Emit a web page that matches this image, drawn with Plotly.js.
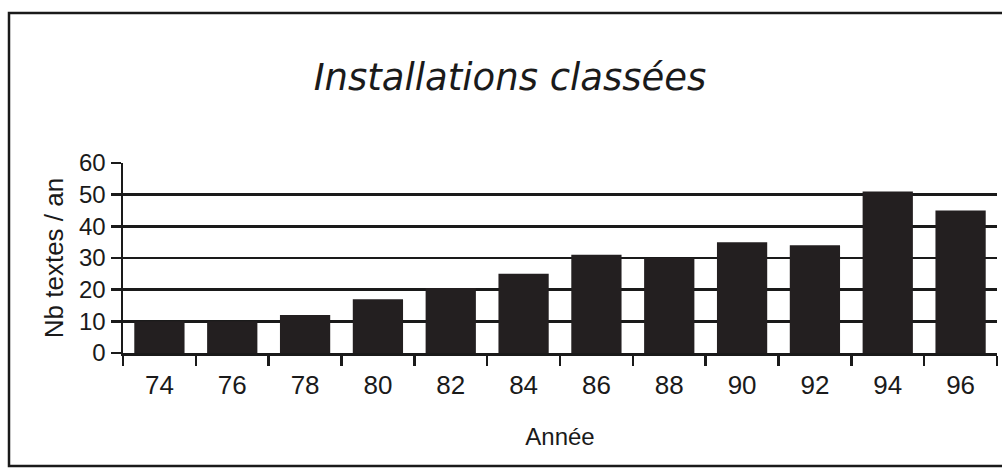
<!DOCTYPE html>
<html>
<head>
<meta charset="utf-8">
<script src="https://cdn.plot.ly/plotly-3.0.1.min.js"></script>
<style>html,body{margin:0;padding:0;background:#fff;}#chart{width:1002px;height:468px;}</style>
</head>
<body>
<div id="chart"></div>
<script>
// Data
const years = ["74","76","78","80","82","84","86","88","90","92","94","96"];
const textsPerYear = [10, 10, 12, 17, 20.5, 25, 31, 30, 35, 34, 51, 45];
const yTickValues = [0, 10, 20, 30, 40, 50, 60];

const W = 1002, H = 468;
const M = {l: 123, r: 5, t: 163, b: 115};
const pw = W - M.l - M.r, ph = H - M.t - M.b;
const px = v => (v - M.l) / pw;
const py = v => (H - M.b - v) / ph;

const trace = {
  type: 'bar',
  x: years,
  y: textsPerYear,
  width: 0.69,
  marker: {color: '#231f20', line: {width: 0}},
  hoverinfo: 'x+y'
};

const layout = {
  width: W, height: H,
  margin: M,
  paper_bgcolor: '#fff',
  plot_bgcolor: '#fff',
  showlegend: false,
  title: {
    text: '<i>Installations classées</i>',
    font: {family: 'DejaVu Sans', size: 37, color: '#1a1a1a'},
    x: 0.509, xanchor: 'center',
    y: 1 - 77 / H, yanchor: 'middle', yref: 'container'
  },
  xaxis: {
    type: 'category',
    tickson: 'boundaries',
    ticks: 'outside', ticklen: 10, tickwidth: 2.5, tickcolor: '#1a1a1a',
    ticklabelstandoff: 7,
    showline: true, linecolor: '#1a1a1a', linewidth: 2.5,
    showgrid: false, zeroline: false,
    tickfont: {family: 'Liberation Sans', size: 26, color: '#1a1a1a'},
    title: {text: 'Année', font: {family: 'Liberation Sans', size: 24, color: '#1a1a1a'}, standoff: 30},
    range: [-0.5, 11.5]
  },
  yaxis: {
    range: [0, 60],
    tickvals: yTickValues,
    ticks: 'outside', ticklen: 10, tickwidth: 2.5, tickcolor: '#1a1a1a',
    showline: true, linecolor: '#1a1a1a', linewidth: 2.5,
    showgrid: true, gridcolor: '#1a1a1a', gridwidth: 2.5,
    zeroline: false,
    tickfont: {family: 'Liberation Sans', size: 24, color: '#1a1a1a'},
    title: {text: 'Nb textes / an', font: {family: 'Liberation Sans', size: 26, color: '#1a1a1a'}, standoff: 8}
  },
  shapes: [{
    type: 'rect', xref: 'paper', yref: 'paper', layer: 'above',
    x0: px(9), x1: px(1012), y0: py(466), y1: py(13),
    line: {color: '#1a1a1a', width: 2.5}
  }]
};

Plotly.newPlot('chart', [trace], layout, {displayModeBar: false, staticPlot: true});
</script>
</body>
</html>
